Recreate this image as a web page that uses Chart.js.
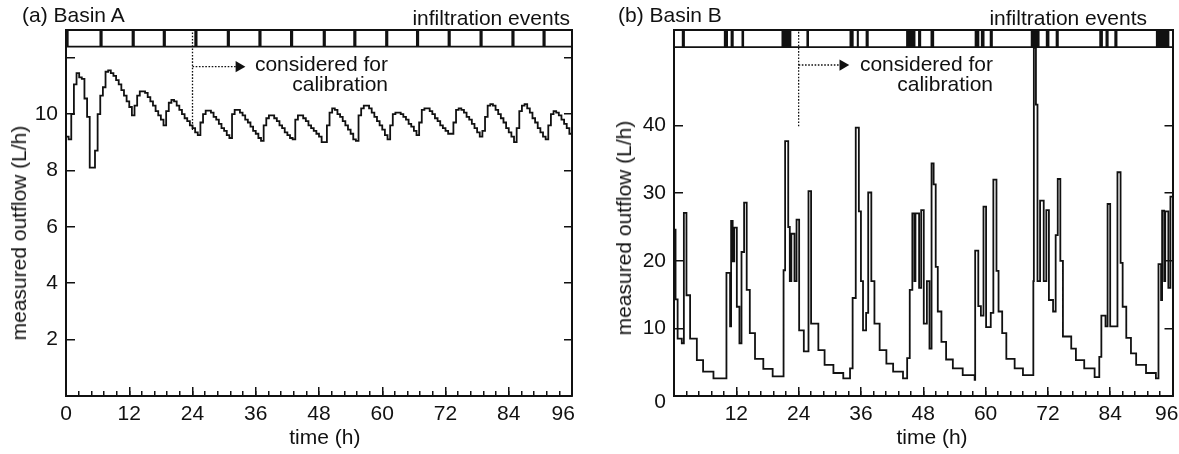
<!DOCTYPE html>
<html>
<head>
<meta charset="utf-8">
<script src="https://cdn.jsdelivr.net/npm/chart.js@4.4.1/dist/chart.umd.min.js"></script>
<style>
  body { margin: 0; background: #fff; width: 1179px; height: 454px; overflow: hidden; position: relative;
         font-family: "Liberation Sans", Arial, Helvetica, sans-serif; color: #111; }
  .panel { position: absolute; top: 0; height: 454px; }
  .txt { position: absolute; font-size: 21px; line-height: 24px; white-space: nowrap; }
  .note { position: absolute; font-size: 21px; line-height: 19.6px; text-align: right; white-space: nowrap; }
  .ytitle { position: absolute; font-size: 21px; line-height: 24px; white-space: nowrap;
            transform: translate(-50%, -50%) rotate(-90deg); }
</style>
</head>
<body>
<div class="panel" style="left:0;width:590px"><canvas id="chartA"></canvas></div>
<div class="panel" style="left:590px;width:589px"><canvas id="chartB"></canvas></div>

<div class="txt" style="left:22px;top:3px">(a) Basin A</div>
<div class="txt" style="right:609px;top:6px">infiltration events</div>
<div class="note" style="right:791px;top:54px">considered for<br>calibration</div>
<div class="ytitle" style="left:18.7px;top:233px">measured outflow (L/h)</div>

<div class="txt" style="left:618px;top:3px">(b) Basin B</div>
<div class="txt" style="right:32px;top:6px">infiltration events</div>
<div class="note" style="right:186px;top:54px">considered for<br>calibration</div>
<div class="ytitle" style="left:623.5px;top:228px">measured outflow (L/h)</div>

<script>
// ---------- data ----------
const stepA = 0.5; // h between samples of basin A
// basin A outflow (L/h), one row = 6 h
const flowA = [
  9.2, 9.1, 10.0, 11.05, 11.45, 11.3, 11.25, 10.55, 9.9, 8.1, 8.1, 8.7,
  10.0, 10.65, 10.95, 11.5, 11.55, 11.45, 11.35, 11.2, 11.05, 10.85, 10.65, 10.45,
  10.25, 9.95, 10.3, 10.65, 10.8, 10.8, 10.75, 10.6, 10.45, 10.3, 10.1, 9.95,
  9.8, 9.6, 10.1, 10.4, 10.5, 10.45, 10.3, 10.15, 10.0, 9.85, 9.75, 9.6,
  9.5, 9.35, 9.25, 9.7, 10.0, 10.12, 10.12, 10.05, 9.9, 9.8, 9.65, 9.5,
  9.4, 9.25, 9.15, 10.0, 10.15, 10.15, 10.05, 9.95, 9.8, 9.7, 9.55, 9.4,
  9.3, 9.15, 9.05, 9.6, 9.85, 9.95, 9.95, 9.85, 9.75, 9.6, 9.5, 9.35,
  9.25, 9.15, 9.1, 9.8, 9.95, 9.95, 9.85, 9.75, 9.6, 9.5, 9.4, 9.3,
  9.2, 9.0, 9.0, 9.6, 10.05, 10.2, 10.15, 10.0, 9.9, 9.75, 9.6, 9.45,
  9.3, 9.1, 9.05, 9.95, 10.2, 10.3, 10.3, 10.2, 10.05, 9.9, 9.75, 9.6,
  9.45, 9.25, 9.1, 9.6, 10.0, 10.05, 10.05, 10.0, 9.9, 9.8, 9.65, 9.55,
  9.4, 9.25, 9.7, 10.15, 10.2, 10.2, 10.1, 10.0, 9.85, 9.75, 9.6, 9.5,
  9.4, 9.3, 9.3, 9.7, 10.15, 10.2, 10.15, 10.05, 9.9, 9.8, 9.65, 9.5,
  9.35, 9.2, 9.4, 9.9, 10.3, 10.35, 10.3, 10.15, 10.0, 9.85, 9.7, 9.5,
  9.35, 9.2, 9.0, 9.5, 10.1, 10.3, 10.35, 10.2, 10.05, 9.85, 9.7, 9.5,
  9.35, 9.2, 9.1, 9.6, 10.0, 10.1, 10.05, 9.95, 9.8, 9.65, 9.5, 9.3,
  9.2
];
const eventStartA = [0, 6.35, 12.45, 18.35, 24.35, 30.5, 36.5, 42.5, 48.7, 54.5, 60.55, 66.4, 72.4, 78.45, 84.5, 90.4];
const eventEndA   = [0.5, 6.95, 13.05, 18.95, 24.95, 31.1, 37.1, 43.1, 49.3, 55.1, 61.15, 67.0, 73.0, 79.05, 85.1, 91.0];

// basin B: times (h) where the measured outflow changes, and the new value (L/h)
const timeB = [
  0, 0.3, 0.7, 1.5, 1.9, 2.4, 3.1, 4.4, 5.6, 7.6,
  10.1, 10.8, 11.0, 11.3, 11.6, 12.1, 12.6, 13.0, 13.5, 14.0,
  14.6, 15.6, 17.2, 19.0, 21.1, 21.4, 22.0, 22.3, 22.6, 23.2,
  23.6, 24.1, 25.0, 25.9, 26.4, 27.8, 29.0, 30.7, 32.6, 33.9,
  34.4, 35.0, 35.6, 36.0, 36.4, 37.0, 37.4, 38.0, 38.6, 39.6,
  40.9, 42.2, 44.1, 44.9, 45.4, 45.9, 46.3, 46.5, 47.2, 47.6,
  48.1, 48.7, 49.2, 49.6, 50.0, 50.4, 50.8, 51.5, 52.4, 53.7,
  55.6, 57.9, 58.0, 58.6, 59.1, 59.6, 60.1, 61.0, 61.5, 62.1,
  62.5, 63.2, 64.0, 65.6, 67.2, 69.2, 69.3, 69.7, 70.0, 70.5,
  71.2, 71.7, 72.2, 73.0, 73.5, 73.9, 74.4, 74.9, 76.5, 77.4,
  79.0, 81.0, 81.9, 82.3, 83.1, 83.5, 84.0, 85.4, 86.0, 86.4,
  87.1, 88.0, 89.0, 90.9, 92.8, 93.3, 93.8, 94.0, 94.4, 94.6,
  95.2, 95.6, 96.0
];
const flowB = [
  24.6, 14.3, 8.5, 7.8, 27.1, 14.9, 8.5, 5.3, 3.6, 2.6,
  18.2, 10.3, 25.9, 19.9, 24.9, 13.2, 7.8, 21.3, 28.6, 15.7,
  9.3, 5.5, 4.0, 2.9, 18.6, 37.7, 25.0, 17.0, 24.0, 17.0,
  26.1, 9.7, 6.6, 30.3, 10.7, 6.8, 4.6, 3.4, 2.6, 4.1,
  14.5, 39.7, 27.3, 17.0, 9.7, 12.3, 30.1, 17.0, 10.7, 6.8,
  4.8, 3.6, 2.6, 5.6, 15.7, 27.0, 17.0, 27.0, 16.0, 27.5,
  10.7, 17.0, 7.0, 34.4, 31.3, 19.1, 12.5, 8.0, 5.4, 4.1,
  3.1, 2.4, 21.5, 13.3, 11.9, 28.0, 10.2, 12.3, 32.0, 18.5,
  12.5, 9.3, 5.5, 4.1, 3.1, 17.0, 51.5, 43.1, 17.0, 28.9,
  17.0, 27.5, 14.2, 12.5, 23.8, 32.1, 20.0, 8.8, 7.0, 5.3,
  4.1, 2.8, 5.8, 11.9, 10.3, 28.4, 10.3, 33.1, 19.7, 13.2,
  8.6, 6.3, 4.6, 3.4, 2.6, 19.5, 14.2, 27.4, 17.0, 27.3,
  16.0, 29.5, 29.5
];
const eventStartB = [1.5, 9.6, 10.9, 13.0, 20.7, 25.5, 33.8, 35.2, 36.9, 44.7, 47.0, 49.4, 57.9, 59.1, 60.8, 68.7, 71.6, 73.5, 81.9, 83.1, 84.8, 92.8];
const eventEndB   = [2.1, 10.4, 11.5, 13.5, 22.6, 26.0, 34.6, 35.6, 37.5, 46.5, 47.6, 50.1, 58.8, 59.8, 61.4, 70.4, 72.3, 74.1, 82.6, 83.7, 85.4, 95.4];

const xMajorTicks = [0, 12, 24, 36, 48, 60, 72, 84, 96];
const xMinorStep = 2.4;
const yTicksA = [2, 4, 6, 8, 10, 12];
const yLabelsA = [2, 4, 6, 8, 10];
const yTicksB = [0, 10, 20, 30, 40];
const yLabelsB = [0, 10, 20, 30, 40];
const calibrationStart = 24;

// ---------- helpers ----------
const INK = '#111';
Chart.defaults.font.family = '"Liberation Sans", Arial, Helvetica, sans-serif';
Chart.defaults.font.size = 21;
Chart.defaults.color = INK;

function stripPoints(starts, ends, base, top) {
  const pts = [{x: 0, y: base}];
  starts.forEach((s, i) => { pts.push({x: s, y: top}); pts.push({x: ends[i], y: base}); });
  pts.push({x: 96, y: base});
  return pts;
}
function fixSize(w, h) {
  return ax => {
    if (w !== null) ax.width = w;
    if (h !== null) ax.height = h;
    ax.paddingLeft = ax.paddingRight = ax.paddingTop = ax.paddingBottom = 0;
  };
}
function setTicks(list) {
  return ax => { ax.ticks = list.map(v => ({value: v})); };
}
const minorTicks = [];
for (let v = 0; v <= 96.001; v += xMinorStep) minorTicks.push(Math.round(v * 10) / 10);

function makePanel(id, p) {
  const line = (data, extra) => Object.assign({
    data, borderColor: INK, pointRadius: 0, fill: false, tension: 0
  }, extra);
  const datasets = [
    line(p.flow, {stepped: true, borderWidth: 1.8}),
    line([{x: 0, y: p.sep}, {x: 96, y: p.sep}], {borderWidth: 1.6}),
    line(stripPoints(p.starts, p.ends, p.sep, p.yMax), {
      stepped: true, borderWidth: 0, borderColor: 'rgba(0,0,0,0)',
      backgroundColor: INK, fill: {value: p.sep}
    }),
    line([{x: calibrationStart, y: p.dotLow}, {x: calibrationStart, y: p.yMax}],
         {borderWidth: 1.3, borderDash: [1.6, 1.6]}),
    line([{x: calibrationStart, y: p.arrowY}, {x: p.arrowX, y: p.arrowY}], {
      borderWidth: 1.3, borderDash: [1.6, 1.6],
      pointRadius: [0, 6.5], pointStyle: 'triangle', rotation: 90,
      pointBackgroundColor: INK, pointBorderColor: INK, pointBorderWidth: 0
    })
  ];
  const tickGrid = len => ({drawOnChartArea: false, tickLength: len, color: INK, lineWidth: 1.5});
  const frame = {color: INK, width: 2};
  return new Chart(document.getElementById(id), {
    type: 'line',
    data: {datasets},
    options: {
      responsive: true, maintainAspectRatio: false, animation: false,
      layout: {padding: p.padding},
      plugins: {legend: {display: false}, tooltip: {enabled: false}},
      scales: {
        x: {
          type: 'linear', min: 0, max: 96, position: 'bottom',
          afterFit: fixSize(null, 58), afterBuildTicks: setTicks(minorTicks),
          grid: tickGrid(-5), border: frame,
          ticks: {
            autoSkip: false, maxRotation: 0, padding: 11,
            callback: v => {
              if (!xMajorTicks.includes(v) || !p.xLabel(v)) return '';
              return v === 96 ? '96' + p.lastPad : String(v);
            }
          },
          title: {display: true, text: p.xTitle, padding: {top: 0, bottom: 3}}
        },
        xMaj: {
          type: 'linear', min: 0, max: 96, position: 'bottom', weight: -1,
          afterFit: fixSize(null, 0), afterBuildTicks: setTicks(xMajorTicks),
          grid: tickGrid(-9), border: {display: false}, ticks: {display: false}
        },
        xTop: {
          type: 'linear', min: 0, max: 96, position: 'top',
          afterFit: fixSize(null, 0),
          grid: {drawOnChartArea: false, drawTicks: false}, border: frame, ticks: {display: false}
        },
        y: {
          type: 'linear', min: 0, max: p.yMax,
          afterFit: fixSize(66, null), afterBuildTicks: setTicks(p.yTicks),
          grid: tickGrid(-9), border: frame,
          ticks: {
            padding: 17, font: {lineHeight: 0.6},
            // the "0" of panel b sits a little under its tick
            callback: v => !p.yLabels.includes(v) ? '' : (v === 0 ? ['', '0'] : String(v))
          }
        },
        yR: {
          type: 'linear', min: 0, max: p.yMax, position: 'right',
          afterFit: fixSize(0, null), afterBuildTicks: setTicks(p.yTicks),
          grid: tickGrid(-8), border: frame, ticks: {display: false}
        }
      }
    }
  });
}

// ---------- panels ----------
const seriesA = flowA.map((v, i) => ({x: i * stepA, y: v}));
makePanel('chartA', {
  flow: seriesA, starts: eventStartA, ends: eventEndA,
  yMax: 12.98, sep: 12.39, dotLow: 9.43, arrowY: 11.68, arrowX: 32.8,
  yTicks: yTicksA, yLabels: yLabelsA,
  xLabel: v => true, lastPad: '\u00a0\u00a0\u00a0', xTitle: '\u00a0\u00a0time (h)',
  padding: {left: 0, right: 18, top: 30, bottom: 0}
});

const seriesB = timeB.map((t, i) => ({x: t, y: flowB[i]}));
makePanel('chartB', {
  flow: seriesB, starts: eventStartB, ends: eventEndB,
  yMax: 54.14, sep: 51.6, dotLow: 39.9, arrowY: 48.96, arrowX: 32.5,
  yTicks: yTicksB, yLabels: yLabelsB,
  xLabel: v => v > 0, lastPad: '\u00a0\u00a0', xTitle: '\u00a0\u00a0\u00a0time (h)',
  padding: {left: 18, right: 6, top: 30, bottom: 0}
});
</script>
</body>
</html>
